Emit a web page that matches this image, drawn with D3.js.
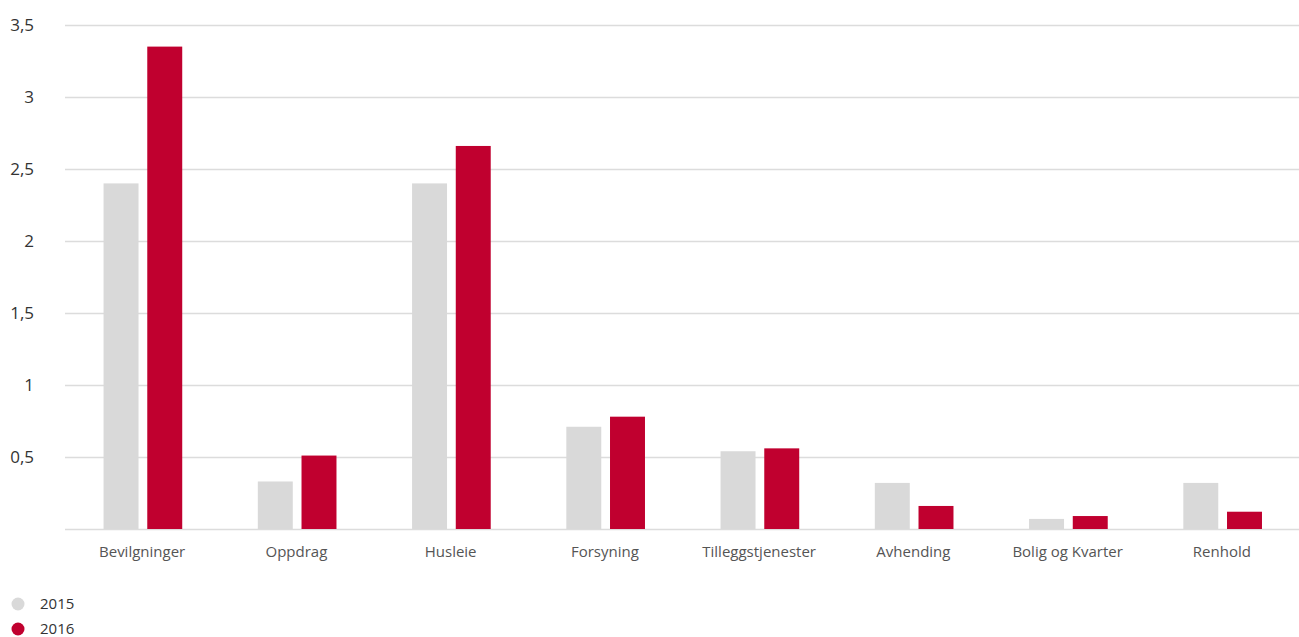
<!DOCTYPE html>
<html>
<head>
<meta charset="utf-8">
<script src="https://cdn.jsdelivr.net/npm/d3@7"></script>
<style>
  body { margin: 0; background: #fff; }
  svg { display: block; }
  svg text { font-family: "Open Sans", "Noto Sans", sans-serif; }
</style>
</head>
<body>
<svg width="1299" height="637"></svg>
<script>
const categories = ["Bevilgninger", "Oppdrag", "Husleie", "Forsyning", "Tilleggstjenester", "Avhending", "Bolig og Kvarter", "Renhold"];
const years = ["2015", "2016"];
const values2015 = [2.4, 0.33, 2.4, 0.71, 0.54, 0.32, 0.07, 0.32];
const values2016 = [3.35, 0.51, 2.66, 0.78, 0.56, 0.16, 0.09, 0.12];
const yTicks = [0.5, 1, 1.5, 2, 2.5, 3, 3.5];
const colors = ["#d9d9d9", "#c0002f"];

const plotLeft = 65, plotRight = 1299, plotTop = 25, plotBottom = 529;

var svg = d3.select("svg");

var x = d3.scaleBand().domain(categories).range([plotLeft, plotRight]).padding(0);
var xs = d3.scaleBand().domain(years)
    .range([x.bandwidth() * 0.25, x.bandwidth() * 0.76])
    .paddingInner(0.2);
var y = d3.scaleLinear().domain([0, 3.5]).range([plotBottom, plotTop]);
var color = d3.scaleOrdinal().domain(years).range(colors);

// gridlines + y labels
var yAxis = svg.append("g")
    .attr("transform", "translate(" + plotLeft + ",0)")
    .call(d3.axisLeft(y).tickValues([0].concat(yTicks))
      .tickSize(-(plotRight - plotLeft))
      .tickFormat(function(d) { return d === 0 ? "" : String(d).replace(".", ","); }));
yAxis.select(".domain").remove();
yAxis.selectAll("line").attr("stroke", "#dcdcdc").attr("stroke-width", 1.5);
yAxis.selectAll("text")
    .attr("x", -31)
    .attr("fill", "#333")
    .style("font-size", "17px");

var rows = categories.map(function(c, i) {
  return { cat: c, vals: [values2015[i], values2016[i]] };
});

var groups = svg.append("g").selectAll("g")
  .data(rows)
  .enter().append("g")
    .attr("transform", function(d) { return "translate(" + x(d.cat) + ",0)"; });

groups.selectAll("rect")
  .data(function(d) { return years.map(function(yr, j) { return { year: yr, v: d.vals[j] }; }); })
  .enter().append("rect")
    .attr("x", function(d) { return xs(d.year); })
    .attr("width", xs.bandwidth())
    .attr("y", function(d) { return y(d.v); })
    .attr("height", function(d) { return y(0) - y(d.v); })
    .attr("fill", function(d) { return color(d.year); });

// category labels
var xAxis = svg.append("g")
  .attr("transform", "translate(0," + plotBottom + ")")
  .call(d3.axisBottom(x).tickSize(0).tickPadding(17));
xAxis.select(".domain").remove();
xAxis.selectAll("text").style("font-size", "15px").attr("fill", "#555");

// legend
var legend = svg.append("g").selectAll("g")
  .data(years)
  .enter().append("g")
    .attr("transform", function(d, i) { return "translate(18," + (604 + i * 25) + ")"; });
legend.append("circle").attr("r", 6.5).attr("fill", function(d) { return color(d); });
legend.append("text")
    .attr("x", 22)
    .attr("dy", "0.35em")
    .style("font-size", "15px")
    .attr("fill", "#333")
    .text(function(d) { return d; });
</script>
</body>
</html>
